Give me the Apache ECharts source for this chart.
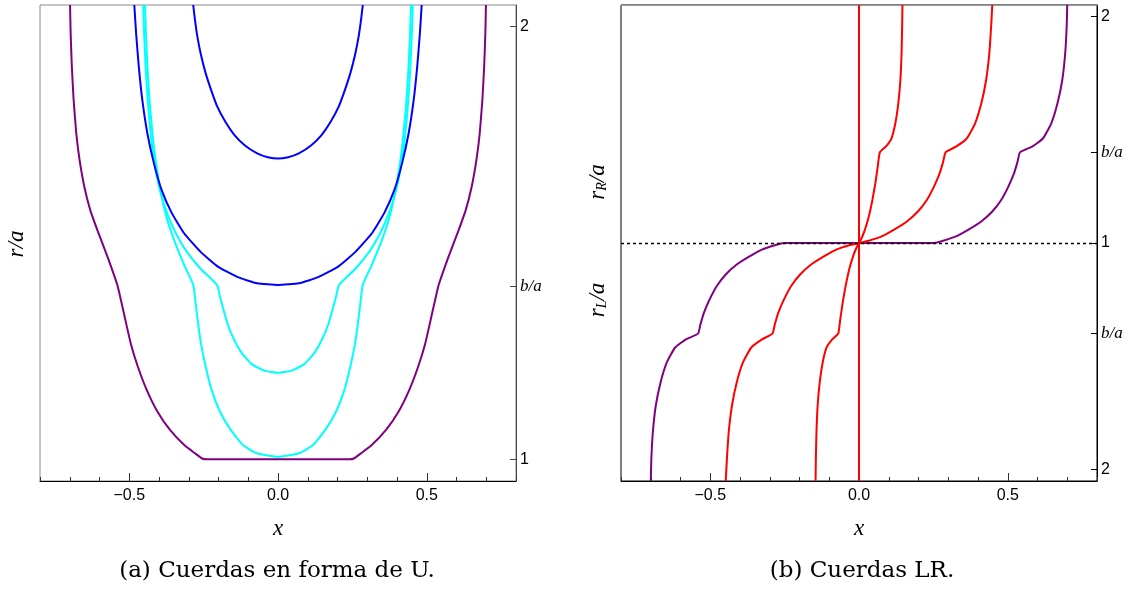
<!DOCTYPE html>
<html>
<head>
<meta charset="utf-8">
<script src="https://cdn.jsdelivr.net/npm/echarts@6.0.0/dist/echarts.min.js"></script>
<style>html,body{margin:0;background:#fff}#chart{width:1129px;height:589px}</style>
</head>
<body>
<div id="chart"></div>
<script>
// ---- datos ----
// panel (a): x, r/a
var purpleU = [[-0.699,2.05],[-0.697,1.985],[-0.693,1.908],[-0.687,1.831],[-0.678,1.753],[-0.667,1.692],[-0.651,1.630],[-0.631,1.576],[-0.603,1.522],[-0.573,1.468],[-0.540,1.403],
  [-0.528,1.368],[-0.513,1.322],[-0.495,1.268],[-0.471,1.214],[-0.441,1.160],[-0.405,1.110],[-0.363,1.068],[-0.315,1.033],[-0.279,1.014],[-0.255,1.002],[-0.240,1.000],
  [0.240,1.000],[0.255,1.002],[0.279,1.014],[0.315,1.033],[0.363,1.068],[0.405,1.110],[0.441,1.160],[0.471,1.214],[0.495,1.268],[0.513,1.322],[0.528,1.368],
  [0.540,1.403],[0.573,1.468],[0.603,1.522],[0.631,1.576],[0.651,1.630],[0.667,1.692],[0.678,1.753],[0.687,1.831],[0.693,1.908],[0.697,1.985],[0.699,2.05]];
var blueSmall = [[-0.285,2.05],[-0.279,2.015],[-0.271,1.977],[-0.259,1.935],[-0.243,1.892],[-0.225,1.854],[-0.204,1.815],[-0.177,1.780],[-0.147,1.750],[-0.112,1.726],[-0.070,1.707],[-0.034,1.698],[0,1.695],
  [0.034,1.698],[0.070,1.707],[0.112,1.726],[0.147,1.750],[0.177,1.780],[0.204,1.815],[0.225,1.854],[0.243,1.892],[0.259,1.935],[0.271,1.977],[0.279,2.015],[0.285,2.05]];
var blueBig = [[-0.483,2.05],[-0.477,1.985],[-0.468,1.908],[-0.456,1.830],[-0.439,1.753],[-0.417,1.684],[-0.391,1.622],[-0.357,1.569],[-0.315,1.522],[-0.261,1.480],[-0.201,1.445],[-0.135,1.421],[-0.070,1.407],[0,1.403],
  [0.070,1.407],[0.135,1.421],[0.201,1.445],[0.261,1.480],[0.315,1.522],[0.357,1.569],[0.391,1.622],[0.417,1.684],[0.439,1.753],[0.456,1.830],[0.468,1.908],[0.477,1.985],[0.483,2.05]];
var cyanOuter = [[-0.447,2.05],[-0.444,1.985],[-0.439,1.908],[-0.432,1.830],[-0.422,1.753],[-0.410,1.684],[-0.393,1.615],[-0.372,1.553],[-0.345,1.499],[-0.315,1.449],[-0.285,1.403],
  [-0.278,1.368],[-0.270,1.322],[-0.259,1.268],[-0.243,1.214],[-0.223,1.160],[-0.195,1.110],[-0.159,1.068],[-0.118,1.033],[-0.070,1.014],[0,1.006],
  [0.070,1.014],[0.118,1.033],[0.159,1.068],[0.195,1.110],[0.223,1.160],[0.243,1.214],[0.259,1.268],[0.270,1.322],[0.278,1.368],
  [0.285,1.403],[0.315,1.449],[0.345,1.499],[0.372,1.553],[0.393,1.615],[0.410,1.684],[0.422,1.753],[0.432,1.830],[0.439,1.908],[0.444,1.985],[0.447,2.05]];
var cyanInner = [[-0.453,2.05],[-0.450,1.985],[-0.445,1.908],[-0.438,1.830],[-0.428,1.753],[-0.415,1.684],[-0.397,1.622],[-0.373,1.569],[-0.343,1.522],[-0.307,1.480],[-0.261,1.441],[-0.205,1.403],
  [-0.195,1.376],[-0.183,1.345],[-0.168,1.310],[-0.147,1.276],[-0.121,1.245],[-0.088,1.220],[-0.046,1.205],[0,1.200],
  [0.046,1.205],[0.088,1.220],[0.121,1.245],[0.147,1.276],[0.168,1.310],[0.183,1.345],[0.195,1.376],
  [0.205,1.403],[0.261,1.441],[0.307,1.480],[0.343,1.522],[0.373,1.569],[0.397,1.622],[0.415,1.684],[0.428,1.753],[0.438,1.830],[0.445,1.908],[0.450,1.985],[0.453,2.05]];

// panel (b): x, s  (s>0: r_R/a - 1, s<0: -(r_L/a - 1))
var redVertical = [[0,-1.05],[0,1.05]];
var redSteep = [[-0.146,-1.05],[-0.145,-0.952],[-0.143,-0.835],[-0.139,-0.717],[-0.132,-0.615],[-0.122,-0.527],[-0.109,-0.461],[-0.090,-0.425],[-0.070,-0.400],
  [-0.063,-0.337],[-0.055,-0.264],[-0.045,-0.190],[-0.033,-0.117],[-0.020,-0.059],[-0.009,-0.022],[0,0],
  [0.009,0.022],[0.020,0.059],[0.033,0.117],[0.045,0.190],[0.055,0.264],[0.063,0.337],
  [0.070,0.400],[0.090,0.425],[0.109,0.461],[0.122,0.527],[0.132,0.615],[0.139,0.717],[0.143,0.835],[0.145,0.952],[0.146,1.05]];
var redMid = [[-0.448,-1.05],[-0.444,-0.952],[-0.438,-0.835],[-0.427,-0.717],[-0.411,-0.615],[-0.390,-0.527],[-0.362,-0.461],[-0.326,-0.425],[-0.291,-0.400],
  [-0.283,-0.359],[-0.271,-0.307],[-0.252,-0.249],[-0.228,-0.190],[-0.198,-0.139],[-0.161,-0.095],[-0.118,-0.059],[-0.076,-0.029],[-0.033,-0.010],[0,0],
  [0.033,0.010],[0.076,0.029],[0.118,0.059],[0.161,0.095],[0.198,0.139],[0.228,0.190],[0.252,0.249],[0.271,0.307],[0.283,0.359],
  [0.291,0.400],[0.326,0.425],[0.362,0.461],[0.390,0.527],[0.411,0.615],[0.427,0.717],[0.438,0.835],[0.444,0.952],[0.448,1.05]];
var purpleLR = [[-0.700,-1.05],[-0.698,-0.952],[-0.693,-0.835],[-0.683,-0.717],[-0.667,-0.615],[-0.646,-0.527],[-0.618,-0.461],[-0.582,-0.425],[-0.541,-0.400],
  [-0.533,-0.359],[-0.521,-0.307],[-0.502,-0.249],[-0.478,-0.190],[-0.448,-0.139],[-0.411,-0.095],[-0.368,-0.059],[-0.326,-0.029],[-0.283,-0.010],[-0.252,0],
  [0.252,0],[0.283,0.010],[0.326,0.029],[0.368,0.059],[0.411,0.095],[0.448,0.139],[0.478,0.190],[0.502,0.249],[0.521,0.307],[0.533,0.359],
  [0.541,0.400],[0.582,0.425],[0.618,0.461],[0.646,0.527],[0.667,0.615],[0.683,0.717],[0.693,0.835],[0.698,0.952],[0.700,1.05]];

// ticks
var xLabelValues = [-0.5, 0, 0.5];
var leftYTicks = [1, 1.4, 2];
var leftYLabels = ['1', 'b/a', '2'];
var rightYTicks = [-1, -0.4, 0, 0.4, 1];
var rightYLabels = ['2', 'b/a', '1', 'b/a', '2'];
var refLevel = 0;

var chart = echarts.init(document.getElementById('chart'));

function xMain(grid) {
  return {
    type: 'value', gridIndex: grid, position: 'bottom', min: -0.8, max: 0.8, interval: 0.1,
    axisLine: { onZero: false, lineStyle: { color: '#000', width: 1 } },
    axisTick: { inside: true, length: 4, lineStyle: { color: '#333' } },
    axisLabel: {
      customValues: xLabelValues, margin: 7, color: '#000', fontSize: 16, fontFamily: 'Liberation Sans',
      formatter: function (v) { return (v < 0 ? '\u2212' : '') + Math.abs(v).toFixed(1); }
    },
    splitLine: { show: false },
    name: 'x', nameLocation: 'middle', nameGap: 36,
    nameTextStyle: { fontFamily: 'Liberation Serif', fontStyle: 'italic', fontSize: 23, color: '#000' }
  };
}
function xMajor(grid) {
  return {
    type: 'value', gridIndex: grid, position: 'bottom', offset: 0, min: -0.8, max: 0.8,
    axisLine: { show: false, onZero: false }, axisLabel: { show: false }, splitLine: { show: false },
    axisTick: { inside: true, length: 8, customValues: xLabelValues, lineStyle: { color: '#333' } }
  };
}
function xTopEdge(grid, color) {
  return {
    type: 'value', gridIndex: grid, position: 'top', min: -0.8, max: 0.8,
    axisLine: { show: true, onZero: false, lineStyle: { color: color } },
    axisTick: { show: false }, axisLabel: { show: false }, splitLine: { show: false }
  };
}
var yRich = {
  n: { fontFamily: 'Liberation Sans', fontSize: 16, color: '#000' },
  i: { fontFamily: 'Liberation Serif', fontStyle: 'italic', fontSize: 17, color: '#000' }
};
function yAxisCfg(grid, mn, mx, ticks, labels, color) {
  return {
    type: 'value', gridIndex: grid, position: 'right', min: mn, max: mx,
    axisLine: { show: true, onZero: false, lineStyle: { color: color } },
    axisTick: { show: true, inside: true, length: 6, customValues: ticks, lineStyle: { color: color } },
    axisLabel: {
      customValues: ticks, margin: 4, rich: yRich,
      formatter: function (v) {
        for (var k = 0; k < ticks.length; k++) {
          if (Math.abs(ticks[k] - v) < 1e-6) {
            return labels[k] === 'b/a' ? '{i|b/a}' : '{n|' + labels[k] + '}';
          }
        }
        return '';
      }
    },
    splitLine: { show: false }
  };
}
function line(name, data, color, xi, yi) {
  return {
    name: name, type: 'line', data: data, xAxisIndex: xi, yAxisIndex: yi,
    showSymbol: false, smooth: 0.15, z: 3, clip: true,
    lineStyle: { color: color, width: 2 }
  };
}

var capFont = '23px "DejaVu Serif"';
var option = {
  animation: false,
  backgroundColor: '#fff',
  grid: [
    { left: 40, top: 5, width: 476, height: 476, show: true, borderColor: '#8a8a8a', borderWidth: 1, outerBoundsMode: 'none' },
    { left: 621, top: 5, width: 476, height: 476, show: true, borderColor: '#000', borderWidth: 1, outerBoundsMode: 'none' }
  ],
  xAxis: [xMain(0), xMajor(0), xMain(1), xMajor(1), xTopEdge(1, '#9a9a9a')],
  yAxis: [
    yAxisCfg(0, 0.95, 2.05, leftYTicks, leftYLabels, '#444'),
    yAxisCfg(1, -1.05, 1.05, rightYTicks, rightYLabels, '#000')
  ],
  series: [
    line('purpleU', purpleU, '#800080', 0, 0),
    line('cyanOuter', cyanOuter, '#00ffff', 0, 0),
    line('cyanInner', cyanInner, '#00ffff', 0, 0),
    line('blueBig', blueBig, '#0000ff', 0, 0),
    line('blueSmall', blueSmall, '#0000ff', 0, 0),
    {
      type: 'line', data: [], xAxisIndex: 2, yAxisIndex: 1, z: 1,
      markLine: {
        silent: true, symbol: 'none', label: { show: false },
        lineStyle: { color: '#000', width: 1.4, type: [3, 3] },
        data: [{ yAxis: refLevel }]
      }
    },
    line('purpleLR', purpleLR, '#800080', 2, 1),
    line('redMid', redMid, '#ff0000', 2, 1),
    line('redSteep', redSteep, '#ff0000', 2, 1),
    line('redVertical', redVertical, '#ff0000', 2, 1)
  ],
  graphic: [
    { type: 'text', x: 17, y: 244, rotation: Math.PI / 2,
      style: { text: 'r/a', font: 'italic 23px "Liberation Serif"', fill: '#000', align: 'center', verticalAlign: 'middle' } },
    { type: 'text', x: 598, y: 182, rotation: Math.PI / 2,
      style: { text: '{i|r}{s|R}{i|/a}', fill: '#000', align: 'center', verticalAlign: 'middle',
        rich: { i: { fontFamily: 'Liberation Serif', fontStyle: 'italic', fontSize: 23 },
                s: { fontFamily: 'Liberation Serif', fontStyle: 'italic', fontSize: 14, verticalAlign: 'bottom' } } } },
    { type: 'text', x: 598, y: 300, rotation: Math.PI / 2,
      style: { text: '{i|r}{s|L}{i|/a}', fill: '#000', align: 'center', verticalAlign: 'middle',
        rich: { i: { fontFamily: 'Liberation Serif', fontStyle: 'italic', fontSize: 23 },
                s: { fontFamily: 'Liberation Serif', fontStyle: 'italic', fontSize: 14, verticalAlign: 'bottom' } } } },
    { type: 'text', x: 277, y: 571,
      style: { text: '(a) Cuerdas en forma de U.', font: capFont, fill: '#000', align: 'center', verticalAlign: 'middle' } },
    { type: 'text', x: 862, y: 571,
      style: { text: '(b) Cuerdas LR.', font: capFont, fill: '#000', align: 'center', verticalAlign: 'middle' } }
  ]
};
chart.setOption(option);
</script>
</body>
</html>
